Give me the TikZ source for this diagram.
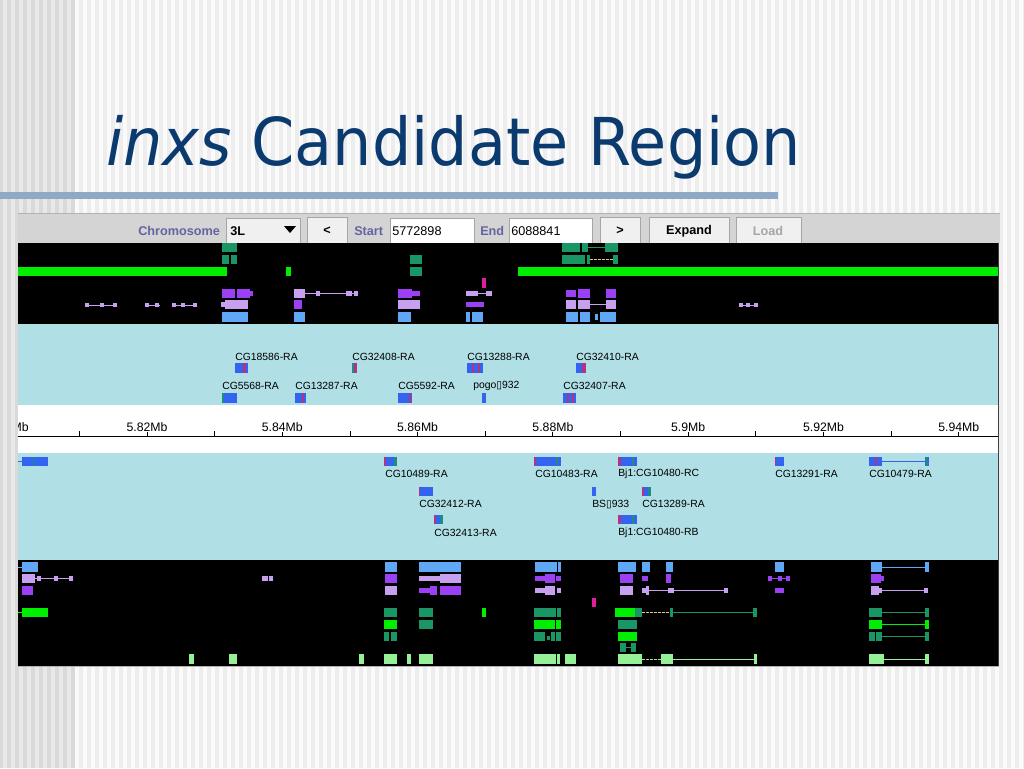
\documentclass[tikz,border=0pt]{standalone}
\usepackage{fontspec}
\setmainfont{Liberation Sans}
\newfontfamily\titlefont[FakeStretch=0.94]{DejaVu Sans}
\newfontfamily\boxfont{DejaVu Sans}
\definecolor{titleblue}{RGB}{10,58,110}
\definecolor{barblue}{RGB}{143,168,198}
\definecolor{toolgray}{RGB}{212,212,212}
\definecolor{panelcyan}{RGB}{176,223,229}
\definecolor{dkgreen}{RGB}{26,150,100}
\definecolor{brgreen}{RGB}{0,238,0}
\definecolor{ltgreen}{RGB}{150,240,150}
\definecolor{purp}{RGB}{155,64,245}
\definecolor{lilac}{RGB}{200,160,240}
\definecolor{ltblue}{RGB}{96,168,245}
\definecolor{magent}{RGB}{225,30,160}
\definecolor{genblue}{RGB}{50,100,240}
\definecolor{genred}{RGB}{180,50,130}
\definecolor{genteal}{RGB}{30,140,130}
\definecolor{toolblue}{RGB}{100,100,160}
\definecolor{tan}{RGB}{220,200,140}
\begin{document}
\begin{tikzpicture}[
        x=0.75pt, y=-0.75pt,
        font=\fontsize{7.8}{8}\selectfont
    ]
    \tikzset{
        lbl/.style = {anchor=west, inner sep=0pt},
        tooltxt/.style = {anchor=west, inner sep=0pt, font=\fontsize{9.5}{10}\selectfont\bfseries},
        fieldtxt/.style = {anchor=west, inner sep=0pt, font=\fontsize{9.5}{10}\selectfont},
        btn/.style = {draw=gray!70, fill=gray!12},
        field/.style = {draw=gray!70, fill=white},
        intron/.style = {line width=0.75pt},
        gap/.style = {line width=0.75pt, dashed, dash pattern=on 2pt off 1pt, tan},
        rulertick/.style = {line width=0.75pt},
    }
    \useasboundingbox (0,0) rectangle (1024,768);
    % slide background
    \fill[white!93!black] (0,0) rectangle (1024,768);
    \foreach \x in {75,83,...,1020} \fill[white!98!black] (\x,0) rectangle ++(4,768);
    \fill[white!85!black] (0,0) rectangle (75,768);
    \foreach \x in {3,11,...,70} \fill[white!91!black] (\x,0) rectangle ++(4,768);
    %
    \node[anchor=base west, inner sep=0pt, text=titleblue,
          font=\titlefont\fontsize{49.5}{50}\selectfont] (title) at (106,165) {\textit{inxs} Candidate Region};
    \fill[barblue] (0,192) rectangle (778,199);
    %
    % tool bar
    \fill[toolgray] (18,213) rectangle (1000,243);
    \draw[gray!60] (18,213) -- (1000,213);
    \node[tooltxt, text=toolblue] (chrom) at (138,231) {Chromosome};
    \draw[btn] (226,218) rectangle (300,243);
    \node[tooltxt] (chr) at (230,231) {3L};
    \fill (284,226) -- (296,226) -- (290,233) -- cycle;
    \draw[btn] (307,217) rectangle (347,243);
    \node[tooltxt, anchor=center] (prev) at (327,231) {<};
    \node[tooltxt, text=toolblue] (start) at (354,231) {Start};
    \draw[field] (390,218) rectangle (474,243);
    \node[fieldtxt] (startval) at (392,231) {5772898};
    \node[tooltxt, text=toolblue] (end) at (480,231) {End};
    \draw[field] (509,218) rectangle (592,243);
    \node[fieldtxt] (endval) at (511,231) {6088841};
    \draw[btn] (600,217) rectangle (640,243);
    \node[tooltxt, anchor=center] (next) at (620,231) {>};
    \draw[btn] (649,217) rectangle (729,243);
    \node[tooltxt, anchor=center] (expand) at (689,231) {Expand};
    \draw[btn] (736,217) rectangle (801,243);
    \node[tooltxt, anchor=center, text=gray!70] (load) at (768,231) {Load};
    %
    % track panels
    \fill[black] (18,243) rectangle (998,324);
    \fill[panelcyan] (18,324) rectangle (998,405);
    \fill[white] (18,405) rectangle (998,453);
    \fill[panelcyan] (18,453) rectangle (998,560);
    \fill[black] (18,560) rectangle (998,666);
    \draw[gray!50!black, line width=1pt] (998.5,243) -- (998.5,666);
    \draw[gray!60, line width=1pt] (18,666.5) -- (999,666.5);
    %
    % upper black track
    \fill[dkgreen] (222,243) rectangle (237,252);
    \fill[dkgreen] (562,243) rectangle (580,252);
    \fill[dkgreen] (582,243) rectangle (588,252);
    \draw[intron, dkgreen] (588,247.5) -- (605,247.5);
    \fill[dkgreen] (605,243) rectangle (618,252);
    \fill[dkgreen] (222,255) rectangle (229,264);
    \fill[dkgreen] (231,255) rectangle (237,264);
    \fill[dkgreen] (410,255) rectangle (422,264);
    \fill[dkgreen] (562,255) rectangle (585,264);
    \fill[dkgreen] (587,255) rectangle (590,264);
    \draw[gap] (590,259.5) -- (613,259.5);
    \fill[dkgreen] (613,255) rectangle (618,264);
    \fill[brgreen] (18,267) rectangle (227,276);
    \fill[brgreen] (286,267) rectangle (291,276);
    \fill[dkgreen] (410,267) rectangle (422,276);
    \fill[brgreen] (518,267) rectangle (998,276);
    \fill[magent] (482,278) rectangle (486,288);
    %
    \fill[purp] (222,289) rectangle (235,298);
    \fill[purp] (237,289) rectangle (250,298);
    \fill[purp] (250,291) rectangle (253,296);
    \fill[lilac] (294,289) rectangle (305,298);
    \draw[intron, lilac] (305,293.5) -- (358,293.5);
    \fill[lilac] (316,291) rectangle (320,296);
    \fill[lilac] (346,291) rectangle (352,296);
    \fill[lilac] (354,291) rectangle (358,296);
    \fill[purp] (398,289) rectangle (412,298);
    \fill[purp] (412,291) rectangle (420,296);
    \fill[lilac] (466,291) rectangle (478,296);
    \draw[intron, lilac] (478,293.5) -- (486,293.5);
    \fill[lilac] (486,291) rectangle (492,296);
    \fill[purp] (566,290) rectangle (576,297);
    \fill[purp] (578,289) rectangle (590,298);
    \fill[purp] (606,289) rectangle (616,298);
    %
    \foreach \x in {85,100,113,145,155,172,181,193} \fill[lilac] (\x,303) rectangle ++(4,4);
    \draw[intron, lilac] (85,305) -- (117,305);
    \draw[intron, lilac] (145,305) -- (160,305);
    \draw[intron, lilac] (172,305) -- (197,305);
    \fill[lilac] (221,302) rectangle (225,307);
    \fill[lilac] (225,300) rectangle (248,309);
    \fill[purp] (294,300) rectangle (302,309);
    \fill[lilac] (398,300) rectangle (420,309);
    \fill[purp] (466,302) rectangle (484,307);
    \fill[lilac] (566,300) rectangle (576,309);
    \fill[lilac] (578,300) rectangle (590,309);
    \draw[intron, lilac] (590,304.5) -- (606,304.5);
    \fill[lilac] (606,300) rectangle (616,309);
    \foreach \x in {739,746,754} \fill[lilac] (\x,303) rectangle ++(4,4);
    \draw[intron, lilac] (739,305) -- (758,305);
    %
    \fill[ltblue] (222,312) rectangle (248,322);
    \fill[ltblue] (294,312) rectangle (305,322);
    \fill[ltblue] (398,312) rectangle (411,322);
    \fill[ltblue] (466,312) rectangle (470,322);
    \fill[ltblue] (472,312) rectangle (483,322);
    \fill[ltblue] (566,312) rectangle (578,322);
    \fill[ltblue] (580,312) rectangle (590,322);
    \fill[ltblue] (595,314) rectangle (598,320);
    \fill[ltblue] (600,312) rectangle (616,322);
    %
    % upper gene panel
    \node[lbl] (cg18586) at (235,357) {CG18586-RA};
    \node[lbl] (cg32408) at (352,357) {CG32408-RA};
    \node[lbl] (cg13288) at (467,357) {CG13288-RA};
    \node[lbl] (cg32410) at (576,357) {CG32410-RA};
    \fill[genblue] (235,363) rectangle (248,373);
    \fill[genred] (243,363) rectangle (246,373);
    \fill[genteal] (352,363) rectangle (354,373);
    \fill[genred] (354,363) rectangle (357,373);
    \fill[genblue] (467,363) rectangle (483,373);
    \fill[genred] (472,363) rectangle (474,373);
    \fill[genred] (478,363) rectangle (480,373);
    \fill[genblue] (576,363) rectangle (586,373);
    \fill[genred] (582,363) rectangle (586,373);
    %
    \node[lbl] (cg5568) at (222,386) {CG5568-RA};
    \node[lbl] (cg13287) at (295,386) {CG13287-RA};
    \node[lbl] (cg5592) at (398,386) {CG5592-RA};
    \node[lbl] (pogo) at (473,386) {pogo{\boxfont ▯}932};
    \node[lbl] (cg32407) at (563,386) {CG32407-RA};
    \fill[genblue] (222,393) rectangle (237,403);
    \fill[genteal] (222,393) rectangle (224,403);
    \fill[genblue] (295,393) rectangle (306,403);
    \fill[genred] (302,393) rectangle (304,403);
    \fill[genblue] (398,393) rectangle (412,403);
    \fill[genred] (409,393) rectangle (411,403);
    \fill[genblue] (482,393) rectangle (486,403);
    \fill[genblue] (563,393) rectangle (576,403);
    \fill[genred] (567,393) rectangle (569,403);
    \fill[genred] (572,393) rectangle (574,403);
    %
    % ruler
    \draw[rulertick] (18,436) -- (998,436);
    \foreach \lab [count=\i from 0] in {5.82Mb,5.84Mb,5.86Mb,5.88Mb,5.9Mb,5.92Mb,5.94Mb} {
        \draw[rulertick] (147+135.3*\i,425) -- (147+135.3*\i,436);
        \draw[rulertick] (79.4+135.3*\i,431) -- (79.4+135.3*\i,436);
        \node[inner sep=0pt, fill=white, font=\fontsize{9.2}{10}\selectfont] (mb\i) at (147+135.3*\i,427) {\lab};
    }
    \begin{scope}
        \clip (18,405) rectangle (998,453);
        \node[inner sep=0pt, font=\fontsize{9.2}{10}\selectfont] (mbcut) at (11.7,427) {5.8Mb};
    \end{scope}
    %
    % lower gene panel
    \draw[intron, genblue] (18,461.5) -- (22,461.5);
    \fill[genblue] (22,457) rectangle (48,466);
    \fill[genteal] (33,457) rectangle (34,466);
    \fill[genblue] (384,457) rectangle (397,466);
    \fill[genred] (384,457) rectangle (386,466);
    \fill[genteal] (394,457) rectangle (397,466);
    \node[lbl] (cg10489) at (385,474) {CG10489-RA};
    \fill[genblue] (534,457) rectangle (561,466);
    \fill[genred] (534,457) rectangle (536,466);
    \fill[genteal] (556,457) rectangle (558,466);
    \node[lbl] (cg10483) at (535,474) {CG10483-RA};
    \fill[genblue] (618,457) rectangle (637,466);
    \fill[genred] (618,457) rectangle (621,466);
    \fill[genteal] (632,457) rectangle (634,466);
    \node[lbl] (bj1rc) at (618,474) {Bj1:CG10480-RC};
    \fill[genblue] (775,457) rectangle (784,466);
    \fill[genred] (775,457) rectangle (776,466);
    \node[lbl] (cg13291) at (775,474) {CG13291-RA};
    \fill[genblue] (869,457) rectangle (882,466);
    \fill[genred] (875,457) rectangle (877,466);
    \draw[intron, genblue] (882,461.5) -- (925,461.5);
    \fill[genblue] (925,457) rectangle (929,466);
    \fill[genteal] (926,457) rectangle (928,466);
    \node[lbl] (cg10479) at (869,474) {CG10479-RA};
    %
    \fill[genblue] (419,487) rectangle (433,496);
    \fill[genred] (419,487) rectangle (420,496);
    \node[lbl] (cg32412) at (419,504) {CG32412-RA};
    \fill[genblue] (592,487) rectangle (596,496);
    \node[lbl] (bs) at (592,504) {BS{\boxfont ▯}933};
    \fill[genblue] (642,487) rectangle (651,496);
    \fill[genred] (642,487) rectangle (644,496);
    \fill[genteal] (648,487) rectangle (651,496);
    \node[lbl] (cg13289) at (642,504) {CG13289-RA};
    %
    \fill[genblue] (434,515) rectangle (443,524);
    \fill[genred] (434,515) rectangle (436,524);
    \fill[genteal] (440,515) rectangle (443,524);
    \node[lbl] (cg32413) at (434,533) {CG32413-RA};
    \fill[genblue] (618,515) rectangle (637,524);
    \fill[genred] (618,515) rectangle (621,524);
    \fill[genteal] (632,515) rectangle (634,524);
    \node[lbl] (bj1rb) at (618,533) {Bj1:CG10480-RB};
    %
    % lower black track
    \draw[intron, ltblue] (18,567) -- (22,567);
    \fill[ltblue] (22,562) rectangle (38,572);
    \fill[ltblue] (385,562) rectangle (397,572);
    \fill[ltblue] (419,562) rectangle (461,572);
    \fill[ltblue] (535,562) rectangle (557,572);
    \fill[ltblue] (558,562) rectangle (561,572);
    \fill[ltblue] (618,562) rectangle (636,572);
    \fill[ltblue] (642,562) rectangle (650,572);
    \fill[ltblue] (666,562) rectangle (673,572);
    \fill[ltblue] (775,562) rectangle (784,572);
    \fill[ltblue] (871,562) rectangle (882,572);
    \draw[intron, ltblue] (882,567) -- (925,567);
    \fill[ltblue] (925,562) rectangle (929,572);
    %
    \fill[lilac] (22,574) rectangle (35,583);
    \draw[intron, lilac] (35,578.5) -- (73,578.5);
    \foreach \x in {37,54,69} \fill[lilac] (\x,576) rectangle ++(4,5);
    \fill[lilac] (262,576) rectangle (268,581);
    \fill[lilac] (269,576) rectangle (273,581);
    \fill[purp] (385,574) rectangle (397,583);
    \fill[lilac] (419,576) rectangle (440,581);
    \fill[lilac] (440,574) rectangle (461,583);
    \fill[purp] (535,576) rectangle (545,581);
    \fill[purp] (545,574) rectangle (555,583);
    \fill[purp] (556,576) rectangle (561,581);
    \fill[purp] (620,574) rectangle (633,583);
    \fill[purp] (642,576) rectangle (648,581);
    \fill[purp] (666,574) rectangle (671,583);
    \draw[intron, purp] (768,578.5) -- (790,578.5);
    \foreach \x in {768,778,786} \fill[purp] (\x,576) rectangle ++(4,5);
    \fill[purp] (871,574) rectangle (881,583);
    \fill[purp] (881,576) rectangle (884,581);
    %
    \fill[purp] (22,586) rectangle (33,595);
    \fill[lilac] (385,586) rectangle (397,595);
    \fill[purp] (419,588) rectangle (430,593);
    \fill[purp] (430,586) rectangle (437,595);
    \fill[purp] (440,586) rectangle (461,595);
    \fill[lilac] (535,588) rectangle (545,593);
    \fill[lilac] (545,586) rectangle (555,595);
    \fill[lilac] (557,588) rectangle (561,593);
    \fill[lilac] (620,586) rectangle (633,595);
    \draw[intron, lilac] (642,590.5) -- (728,590.5);
    \fill[lilac] (642,588) rectangle (646,593);
    \fill[lilac] (646,586) rectangle (649,595);
    \fill[lilac] (668,588) rectangle (674,593);
    \fill[lilac] (724,588) rectangle (728,593);
    \fill[purp] (775,588) rectangle (784,593);
    \fill[lilac] (871,586) rectangle (879,595);
    \fill[lilac] (879,588) rectangle (882,593);
    \draw[intron, lilac] (882,590.5) -- (925,590.5);
    \fill[lilac] (924,588) rectangle (928,593);
    %
    \fill[magent] (592,598) rectangle (596,607);
    %
    \draw[intron, brgreen] (18,612.5) -- (22,612.5);
    \fill[brgreen] (22,608) rectangle (48,617);
    \fill[dkgreen] (384,608) rectangle (397,617);
    \fill[dkgreen] (419,608) rectangle (433,617);
    \fill[brgreen] (482,608) rectangle (486,617);
    \fill[dkgreen] (534,608) rectangle (556,617);
    \fill[dkgreen] (557,608) rectangle (561,617);
    \fill[brgreen] (615,608) rectangle (635,617);
    \fill[dkgreen] (635,608) rectangle (642,617);
    \draw[gap] (642,612.5) -- (670,612.5);
    \fill[dkgreen] (670,608) rectangle (673,617);
    \draw[intron, dkgreen] (673,612.5) -- (754,612.5);
    \fill[dkgreen] (753,608) rectangle (757,617);
    \fill[dkgreen] (869,608) rectangle (882,617);
    \draw[intron, dkgreen] (882,612.5) -- (925,612.5);
    \fill[dkgreen] (925,608) rectangle (929,617);
    %
    \fill[brgreen] (384,620) rectangle (397,629);
    \fill[dkgreen] (419,620) rectangle (433,629);
    \fill[brgreen] (534,620) rectangle (555,629);
    \fill[brgreen] (556,620) rectangle (561,629);
    \fill[dkgreen] (618,620) rectangle (637,629);
    \fill[brgreen] (869,620) rectangle (882,629);
    \draw[intron, brgreen] (882,624.5) -- (925,624.5);
    \fill[brgreen] (925,620) rectangle (929,629);
    %
    \fill[dkgreen] (384,632) rectangle (389,641);
    \fill[dkgreen] (391,632) rectangle (397,641);
    \fill[dkgreen] (534,632) rectangle (545,641);
    \fill[dkgreen] (547,636) rectangle (550,640);
    \fill[dkgreen] (551,632) rectangle (555,641);
    \fill[dkgreen] (556,632) rectangle (561,641);
    \fill[brgreen] (618,632) rectangle (637,641);
    \fill[dkgreen] (869,632) rectangle (875,641);
    \fill[dkgreen] (876,632) rectangle (882,641);
    \draw[intron, dkgreen] (882,636.5) -- (925,636.5);
    \fill[dkgreen] (925,632) rectangle (929,641);
    %
    \fill[dkgreen] (620,643) rectangle (626,652);
    \draw[intron, dkgreen] (626,647.5) -- (631,647.5);
    \fill[dkgreen] (631,643) rectangle (636,652);
    %
    \foreach \a/\b in {189/194,229/237,359/364,384/397,407/411,419/433,534/556,557/560,565/576,618/642,661/673,754/757,869/884,925/929}
        \fill[ltgreen] (\a,654) rectangle (\b,664);
    \draw[gap, ltgreen!70!tan] (642,659) -- (661,659);
    \draw[intron, ltgreen] (673,659) -- (754,659);
    \draw[intron, ltgreen] (884,659) -- (925,659);
\end{tikzpicture}
\end{document}
